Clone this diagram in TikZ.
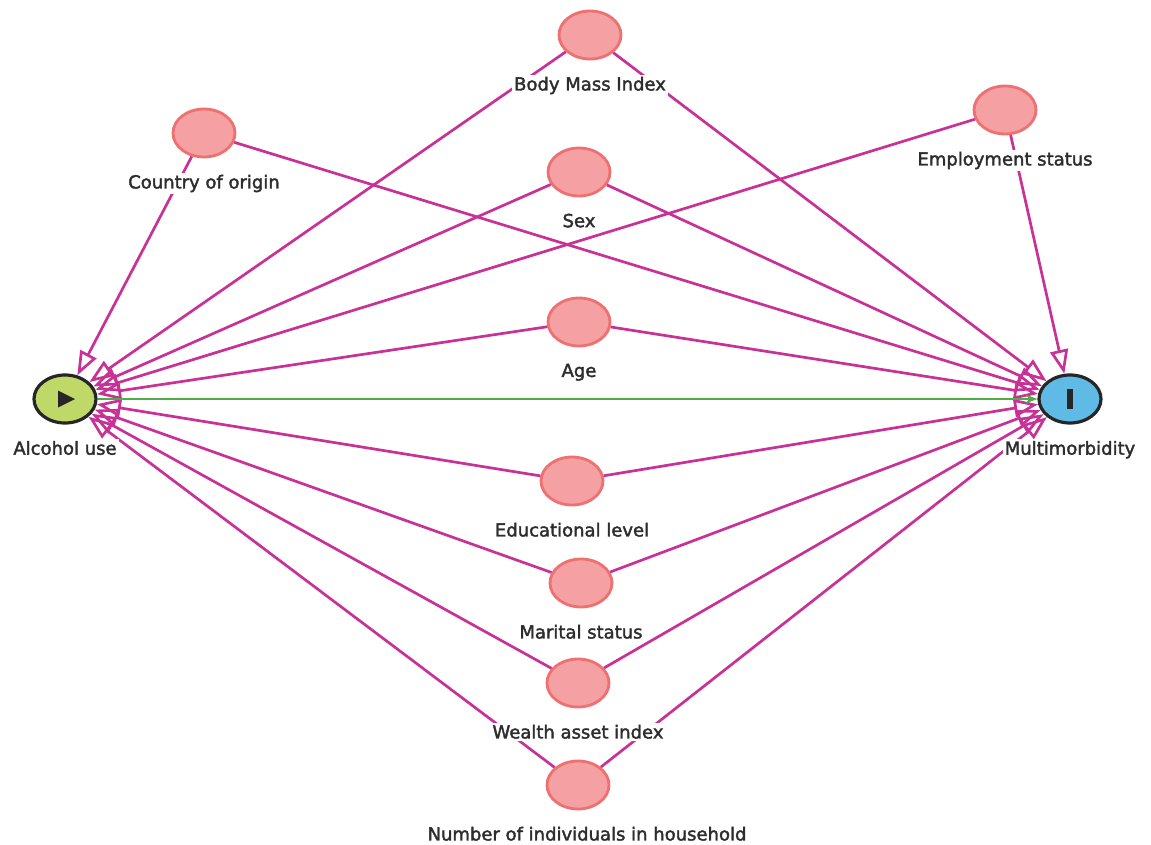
\documentclass[tikz,border=0pt]{standalone}
\usepackage{fontspec}
\setmainfont{DejaVu Sans}
\newfontfamily\varfont{DejaVu Sans}[BoldFont={DejaVu Sans}, BoldFeatures={FakeBold=2}]
\usepackage{xcolor}
\usepackage{tikz}
\usetikzlibrary{arrows.meta,
positioning,
shapes.geometric,
calc}

\definecolor{biascol}{RGB}{200,50,150}
\definecolor{confill}{RGB}{245,160,162}
\definecolor{condraw}{RGB}{238,112,112}
\definecolor{expfill}{RGB}{192,216,104}
\definecolor{outfill}{RGB}{96,186,230}
\definecolor{causalcol}{RGB}{80,172,70}
\definecolor{labelcol}{RGB}{45,45,45}

\begin{document}
\begin{tikzpicture}[
				x=0.5pt, y=-0.5pt,
				confounder/.style={
					ellipse,
					draw=condraw,
					fill=confill,
					minimum width=31pt,
					minimum height=24pt,
					line width=1.4pt
				},
				exposure/.style={
					ellipse,
					draw=black!85,
					fill=expfill,
					minimum width=31pt,
					minimum height=24pt,
					line width=1.6pt
				},
				outcome/.style={
					exposure,
					fill=outfill
				},
				varlabel/.style={
					fill=white,
					text=labelcol,
					inner sep=1pt,
					font=\varfont\bfseries\fontsize{9}{10}\selectfont
				},
				biasing/.style={
					draw=biascol,
					line width=1.35pt,
					-{Triangle[open,length=12pt,width=9pt]}
				},
				causal/.style={
					draw=causalcol,
					line width=1.4pt,
					-{Stealth[length=6pt,width=4.5pt]}
				}
				]
				\useasboundingbox (0,0) rectangle (1151,845);
				
				% exposure and outcome
				\node[exposure] (alc) at (65,399) {};
				\node[outcome] (mm) at (1070,399) {};
				\fill[black!85] ($(alc)+(-7,-8.5)$) -- ($(alc)+(-7,8.5)$) -- ($(alc)+(10,0)$) -- cycle;
				\fill[black!85] ($(mm)+(-3,-10)$) rectangle ($(mm)+(3,10)$);
				
				% covariates
				\node[confounder] (bmi) at (590,35) {};
				\node[confounder] (coo) at (204,133) {};
				\node[confounder] (emp) at (1005,110) {};
				\node[confounder] (sex) at (579,172) {};
				\node[confounder] (age) at (579,322) {};
				\node[confounder] (edu) at (572,481) {};
				\node[confounder] (mar) at (581,583) {};
				\node[confounder] (wea) at (578,683) {};
				\node[confounder] (hh) at (578,785) {};
				
				% edges
				\foreach \c in {bmi,coo,emp,sex,age,edu,mar,wea,hh} {
					\draw[biasing] (\c) -- (alc);
					\draw[biasing] (\c) -- (mm);
				}
				\draw[causal] (alc) -- (mm);
				
				% labels
				\node[varlabel, below=7pt of alc] (alclab) {Alcohol use};
				\node[varlabel, below=7pt of mm] (mmlab) {Multimorbidity};
				\node[varlabel, below=7pt of bmi] (bmilab) {Body Mass Index};
				\node[varlabel, below=7pt of coo] (coolab) {Country of origin};
				\node[varlabel, below=7pt of emp] (emplab) {Employment status};
				\node[varlabel, below=7pt of sex] (sexlab) {Sex};
				\node[varlabel, below=7pt of age] (agelab) {Age};
				\node[varlabel, below=7pt of edu] (edulab) {Educational level};
				\node[varlabel, below=7pt of mar] (marlab) {Marital status};
				\node[varlabel, below=7pt of wea] (wealab) {Wealth asset index};
				\node[varlabel, below=7pt of hh, xshift=4.5pt] (hhlab) {Number of individuals in household};
			\end{tikzpicture}
\end{document}
